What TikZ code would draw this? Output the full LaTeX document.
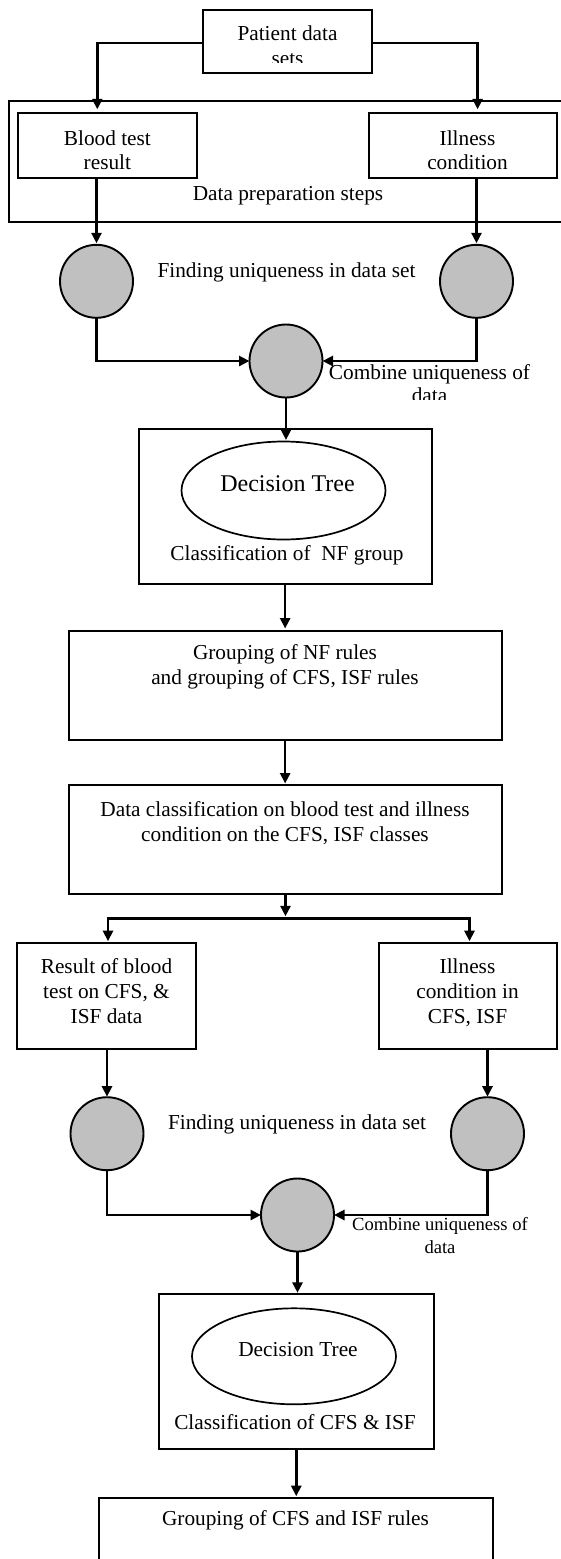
\documentclass[tikz,border=0pt]{standalone}
\usepackage{fontspec}
\setmainfont{Liberation Serif}
\usetikzlibrary{arrows.meta,shapes.geometric}
\definecolor{dotgray}{RGB}{192,192,192}
\newcommand{\stk}[1]{\begin{tabular}[t]{@{}c@{}}#1\end{tabular}}
\begin{document}
\begin{tikzpicture}[x=1pt,y=-1pt,
  box/.style={draw, line width=2pt, rectangle, inner sep=0pt, outer sep=0pt},
  dot/.style={circle, draw, line width=1.9pt, fill=dotgray, minimum size=73pt, inner sep=0pt, outer sep=0pt},
  oval/.style={ellipse, draw, line width=1.7pt, inner sep=0pt, outer sep=0pt},
  lbl/.style={font=\fontsize{21.3}{24.5}\selectfont, anchor=base, inner sep=0pt},
  lblw/.style={font=\fontsize{21.3}{25}\selectfont, anchor=base, inner sep=0pt},
  arr/.style={line width=2.6pt, -{Triangle[length=10.5pt,width=10pt]}}
]
\clip (0,0) rectangle (561,1559);
\fill[white] (0,0) rectangle (561,1559);

% ---------- boxes ----------
\node[box, minimum width=169pt, minimum height=63.5pt] (pat) at (287.5,41.25) {};
\node[box, minimum width=571pt, minimum height=120.7pt] (prep) at (294.5,161.35) {};
\node[box, minimum width=179pt, minimum height=64.4pt] (blood) at (107.5,145.5) {};
\node[box, minimum width=188.5pt, minimum height=64.4pt] (ill) at (462.75,145.5) {};

\node[dot] (L1) at (96.5,281.3) {};
\node[dot] (R1) at (476.5,281.3) {};
\node[dot] (C1) at (286,361) {};

\node[box, minimum width=293.3pt, minimum height=155.5pt] (dec1) at (285.15,506.25) {};
\node[oval, minimum width=204pt, minimum height=98pt] (ell1) at (283.5,490.5) {};

\node[box, minimum width=432.6pt, minimum height=108.5pt] (grp1) at (285.3,685.25) {};
\node[box, minimum width=432.6pt, minimum height=109pt] (dc) at (285.3,839.5) {};

\node[box, minimum width=179.2pt, minimum height=106.3pt] (res) at (106.8,995.85) {};
\node[box, minimum width=178.9pt, minimum height=106.6pt] (ill2) at (467.95,996) {};

\node[dot] (L2) at (107,1133.7) {};
\node[dot] (R2) at (487.5,1133.7) {};
\node[dot] (C2) at (297.5,1215) {};

\node[box, minimum width=275.5pt, minimum height=155pt] (dec2) at (296.25,1371.8) {};
\node[oval, minimum width=204pt, minimum height=96pt] (ell2) at (294,1356.3) {};

\node[box, minimum width=394pt, minimum height=122.3pt] (last) at (296,1558.85) {};

% ---------- texts ----------
\begin{scope}
  \clip (203,9.5) rectangle (372,62.5);
  \node[lbl] (tpat) at (287.5,40.5) {\stk{Patient data\\sets}};
\end{scope}
\node[lbl] (tblood) at (107.4,145) {\stk{Blood test\\result}};
\node[lbl] (till) at (467.5,145) {\stk{Illness\\condition}};
\node[lbl] (tprep) at (288,200) {Data preparation steps};
\node[lbl] (tfind1) at (286.5,277.5) {Finding uniqueness in data set};
\begin{scope}
  \clip (300,355) rectangle (561,399.3);
  \node[font=\fontsize{21.3}{23.5}\selectfont, anchor=base, inner sep=0pt] (tcomb1) at (429.5,379) {\stk{Combine uniqueness of\\data}};
\end{scope}
\node[font=\fontsize{24}{28}\selectfont, anchor=base, inner sep=0pt] (tdt1) at (287.5,491.5) {Decision Tree};
\node[lbl] (tcls1) at (287,560.5) {Classification of\ \ NF group};
\node[lblw] (tgrp1) at (285,659) {\stk{Grouping of NF rules\\and grouping of CFS, ISF rules}};
\node[lblw] (tdc) at (285,816) {\stk{Data classification on blood test and illness\\condition on the CFS, ISF classes}};
\node[lblw] (tres) at (106.5,973.5) {\stk{Result of blood\\test on CFS, \&\\ISF data}};
\node[lblw] (till2) at (467.5,973.5) {\stk{Illness\\condition in\\CFS, ISF}};
\node[lbl] (tfind2) at (297,1129.5) {Finding uniqueness in data set};
\node[font=\fontsize{18.6}{22.5}\selectfont, anchor=base, inner sep=0pt] (tcomb2) at (440,1230.5) {\stk{Combine uniqueness of\\data}};
\node[lbl] (tdt2) at (298,1356.5) {Decision Tree};
\node[lbl] (tcls2) at (295,1429) {Classification of CFS \& ISF};
\node[lbl] (tgrp2) at (295.5,1525.5) {Grouping of CFS and ISF rules};

% ---------- connectors ----------
\coordinate (j1) at (97.3,43);
\coordinate (j2) at (477.6,43);
\draw[arr, shorten >=4pt] (pat.west |- j1) -- (j1) -- (j1 |- blood.north);
\draw[arr, shorten >=4pt] (pat.east |- j2) -- (j2) -- (j2 |- ill.north);

\draw[arr, shorten >=1.5pt] (L1 |- blood.south) -- (L1.north);
\draw[arr, shorten >=1.5pt] (R1 |- ill.south) -- (R1.north);
\draw[arr] (L1.south) |- (C1.west);
\draw[arr] (R1.south) |- (C1.east);
\draw[arr, shorten >=1.5pt] (C1.south) -- (C1 |- ell1.north);
\draw[arr, shorten >=2.5pt] (dec1.south) -- (dec1.south |- grp1.north);
\draw[arr, shorten >=1.5pt] (dec1.south |- grp1.south) -- (dec1.south |- dc.north);

\coordinate (j3) at (285.5,918.3);
\coordinate (j4) at (108,918.3);
\coordinate (j5) at (469.5,918.3);
\draw[arr, shorten >=2pt] (j3 |- dc.south) -- (j3);
\draw[arr, shorten >=1.5pt] (j3) -- (j4) -- (j4 |- res.north);
\draw[arr, shorten >=1.5pt] (j3) -- (j5) -- (j5 |- ill2.north);

\draw[arr, shorten >=0.5pt] (L2 |- res.south) -- (L2.north);
\draw[arr, shorten >=0.5pt] (R2 |- ill2.south) -- (R2.north);
\draw[arr] (L2.south) |- (C2.west);
\draw[arr] (R2.south) |- (C2.east);
\draw[arr, shorten >=1.5pt] (C2.south) -- (C2 |- dec2.north);
\draw[arr, shorten >=1.5pt] (dec2.south) -- (dec2.south |- last.north);
\end{tikzpicture}
\end{document}
